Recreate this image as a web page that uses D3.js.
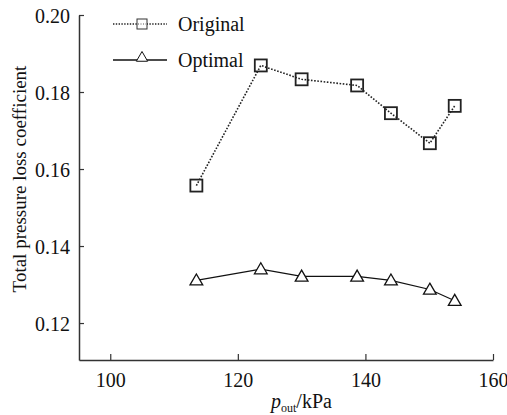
<!DOCTYPE html>
<html>
<head>
<meta charset="utf-8">
<script src="https://cdn.jsdelivr.net/npm/d3@7"></script>
<style>
  body { margin: 0; background: #fff; }
  svg text { font-family: "Times New Roman", "Liberation Serif", Times, "DejaVu Serif", serif; fill: #111; }
</style>
</head>
<body>
<div id="chart"></div>
<script>
// outlet pressure, kPa
const pressure = [113.5, 123.6, 130.0, 138.7, 144.0, 150.1, 154.0];
const originalLoss = [0.1557, 0.1869, 0.1833, 0.1817, 0.1745, 0.1667, 0.1764];
const optimalLoss = [0.1311, 0.1340, 0.1321, 0.1321, 0.1311, 0.1287, 0.1258];
const xTicks = [100, 120, 140, 160];
const yTicks = [0.12, 0.14, 0.16, 0.18, 0.20];
const seriesNames = ["Original", "Optimal"];

const width = 507, height = 415;
const margin = {top: 15, right: 14, bottom: 55, left: 79};
const serif = "'Times New Roman', 'Liberation Serif', Times, 'DejaVu Serif', serif";

const svg = d3.select("#chart")
  .append("svg")
    .attr("width", width)
    .attr("height", height)
    .attr("font-family", serif);

const x = d3.scaleLinear()
  .domain([95.1, 160])
  .range([margin.left, width - margin.right]);

const y = d3.scaleLinear()
  .domain([0.1104, 0.2])
  .range([height - margin.bottom, margin.top]);

const axisColor = "#333";

// y axis, ticks pointing inward
const yAxis = svg.append("g")
  .attr("transform", "translate(" + margin.left + ",0)")
  .call(d3.axisLeft(y).tickValues(yTicks).tickSizeInner(-5).tickSizeOuter(0)
    .tickFormat(d3.format(".2f")))
  .attr("font-family", serif)
  .attr("font-size", 20);
yAxis.select(".domain").attr("stroke", axisColor).attr("stroke-width", 1.5);
yAxis.selectAll(".tick line").attr("stroke", axisColor).attr("stroke-width", 1.2);
yAxis.selectAll(".tick text")
  .attr("x", -9)
  .attr("dy", "0.35em");

// x axis, ticks pointing inward
const xAxis = svg.append("g")
  .attr("transform", "translate(0," + (height - margin.bottom) + ")")
  .call(d3.axisBottom(x).tickValues(xTicks).tickSizeInner(-6).tickSizeOuter(0)
    .tickFormat(d3.format("d")))
  .attr("font-family", serif)
  .attr("font-size", 20);
xAxis.select(".domain").attr("stroke", axisColor).attr("stroke-width", 1.5);
xAxis.selectAll(".tick line").attr("stroke", axisColor).attr("stroke-width", 1.2);
xAxis.selectAll(".tick text")
  .attr("y", 13)
  .attr("dy", "0.71em");

// axis titles
svg.append("text")
  .attr("transform", "translate(26,179) rotate(-90)")
  .attr("text-anchor", "middle")
  .attr("font-size", 19)
  .text("Total pressure loss coefficient");

const xTitle = svg.append("text")
  .attr("x", 271)
  .attr("y", 408)
  .attr("font-size", 20);
xTitle.append("tspan").style("font-style", "italic").text("p");
xTitle.append("tspan").attr("dy", 4).attr("font-size", 12).text("out");
xTitle.append("tspan").attr("dy", -4).text("/kPa");

const line = d3.line()
  .x(function (d) { return x(d[0]); })
  .y(function (d) { return y(d[1]); });

const originalPts = d3.zip(pressure, originalLoss);
const optimalPts = d3.zip(pressure, optimalLoss);

const tri = d3.symbol().type(d3.symbolTriangle).size(70);

// original: dotted + open squares
svg.append("path")
  .datum(originalPts)
  .attr("d", line)
  .attr("fill", "none")
  .attr("stroke", "#222")
  .attr("stroke-width", 1.6)
  .attr("stroke-dasharray", "1.6,1.6");

svg.selectAll(".sq")
  .data(originalPts)
  .enter()
  .append("rect")
    .attr("class", "sq")
    .attr("x", function (d) { return x(d[0]) - 6; })
    .attr("y", function (d) { return y(d[1]) - 6; })
    .attr("width", 12)
    .attr("height", 12)
    .attr("fill", "none")
    .attr("stroke", "#222")
    .attr("stroke-width", 1.8);

// optimal: solid + open triangles
svg.append("path")
  .datum(optimalPts)
  .attr("d", line)
  .attr("fill", "none")
  .attr("stroke", "#111")
  .attr("stroke-width", 1.2);

svg.selectAll(".tri")
  .data(optimalPts)
  .enter()
  .append("path")
    .attr("class", "tri")
    .attr("d", tri)
    .attr("transform", function (d) { return "translate(" + x(d[0]) + "," + (y(d[1]) + 1) + ")"; })
    .attr("fill", "#fff")
    .attr("stroke", "#111")
    .attr("stroke-width", 1.3);

// legend
const legend = svg.append("g");
const legendY = [24, 60];

legend.append("line")
  .attr("x1", 113).attr("x2", 167)
  .attr("y1", legendY[0]).attr("y2", legendY[0])
  .attr("stroke", "#222").attr("stroke-width", 1.3)
  .attr("stroke-dasharray", "1.4,1.4");
legend.append("rect")
  .attr("x", 137).attr("y", legendY[0] - 5)
  .attr("width", 10).attr("height", 10)
  .attr("fill", "#fff").attr("stroke", "#333").attr("stroke-width", 1);
legend.append("line")
  .attr("x1", 138).attr("x2", 146)
  .attr("y1", legendY[0]).attr("y2", legendY[0])
  .attr("stroke", "#555").attr("stroke-width", 1)
  .attr("stroke-dasharray", "1,1.5");

legend.append("line")
  .attr("x1", 113).attr("x2", 167)
  .attr("y1", legendY[1]).attr("y2", legendY[1])
  .attr("stroke", "#111").attr("stroke-width", 1.3);
legend.append("path")
  .attr("d", d3.symbol().type(d3.symbolTriangle).size(55))
  .attr("transform", "translate(142," + (legendY[1] - 2) + ")")
  .attr("fill", "#fff").attr("stroke", "#111").attr("stroke-width", 1);

legend.selectAll(".lt")
  .data(seriesNames)
  .enter()
  .append("text")
    .attr("class", "lt")
    .attr("x", 178)
    .attr("y", function (d, i) { return legendY[i]; })
    .attr("dy", "0.35em")
    .attr("font-size", 20)
    .text(function (d) { return d; });
</script>
</body>
</html>
